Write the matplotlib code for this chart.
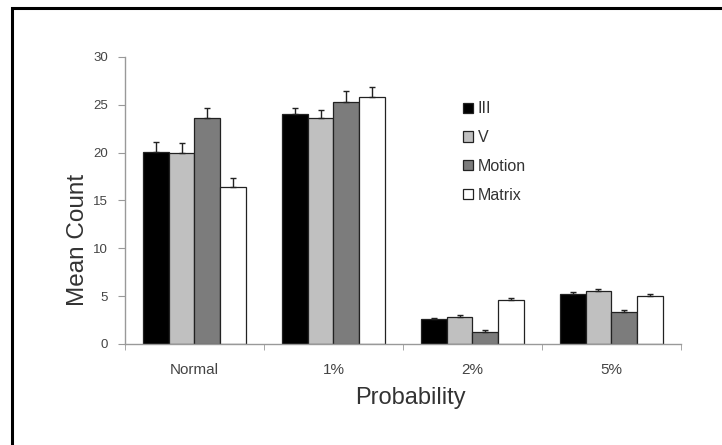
"""Grouped bar chart of mean counts by noise probability."""

import numpy as np
import matplotlib
matplotlib.use("Agg")
import matplotlib.pyplot as plt
from matplotlib.patches import Rectangle

plt.rcParams["font.family"] = ["Liberation Sans", "DejaVu Sans"]

categories = ["Normal", "1%", "2%", "5%"]
series = ["III", "V", "Motion", "Matrix"]
colors = ["#000000", "#c0c0c0", "#7c7c7c", "#ffffff"]

means = {
    "III":    [20.1, 24.0, 2.6, 5.2],
    "V":      [20.0, 23.6, 2.8, 5.5],
    "Motion": [23.6, 25.3, 1.3, 3.3],
    "Matrix": [16.4, 25.8, 4.6, 5.0],
}
errors = {
    "III":    [1.0, 0.7, 0.15, 0.25],
    "V":      [1.0, 0.9, 0.2, 0.2],
    "Motion": [1.1, 1.1, 0.15, 0.2],
    "Matrix": [1.0, 1.1, 0.2, 0.25],
}

fig = plt.figure(figsize=(7.22, 4.45), dpi=100)
ax = fig.add_axes([0.173, 0.227, 0.770, 0.645])

# frame lines along the top and left of the figure (runs off the right/bottom)
fig.patches.append(Rectangle((0.0166, -0.1), 1.1, 1.081, transform=fig.transFigure,
                             fill=False, edgecolor="black", linewidth=2.2))

x = np.arange(len(categories))
width = 0.185
for i, name in enumerate(series):
    pos = x + (i - 1.5) * width
    vals = means[name]
    err = errors[name]
    ax.bar(pos, vals, width, color=colors[i], edgecolor="#222222", linewidth=0.9,
           label=name, zorder=2)
    ax.errorbar(pos, vals, yerr=[np.zeros(len(vals)), err], fmt="none",
                ecolor="#222222", elinewidth=1.0, capsize=2.5, capthick=1.0, zorder=3)

ax.set_xlim(-0.5, len(categories) - 0.5)
ax.set_ylim(0, 30)
ax.set_yticks(range(0, 31, 5))
ax.set_xticks(x)
ax.set_xticklabels(categories)
ax.set_xticks(np.arange(-0.5, len(categories) + 0.5, 1), minor=True)
ax.tick_params(axis="x", which="major", length=0, pad=14, labelsize=11, colors="#444444")
ax.tick_params(axis="x", which="minor", length=4, color="#999999", direction="out")
ax.tick_params(axis="y", length=5, color="#999999", labelsize=9.5, colors="#444444", pad=7)

for side in ["top", "right"]:
    ax.spines[side].set_visible(False)
for side in ["left", "bottom"]:
    ax.spines[side].set_color("#999999")
    ax.spines[side].set_linewidth(1.0)

ax.set_ylabel("Mean Count", fontsize=17.5, color="#333333")
ax.yaxis.set_label_coords(-0.065, 0.362)
ax.set_xlabel("Probability", fontsize=17, color="#333333", va="top")
ax.xaxis.set_label_coords(0.513, -0.150)

leg = fig.legend(*ax.get_legend_handles_labels(), loc="upper left",
                 bbox_to_anchor=(0.641, 0.772), frameon=False, borderpad=0,
                 borderaxespad=0, fontsize=11.5, handlelength=0.62, handleheight=0.62,
                 handletextpad=0.3, labelspacing=0.86, labelcolor="#333333")

fig.savefig("out.png", dpi=100)
